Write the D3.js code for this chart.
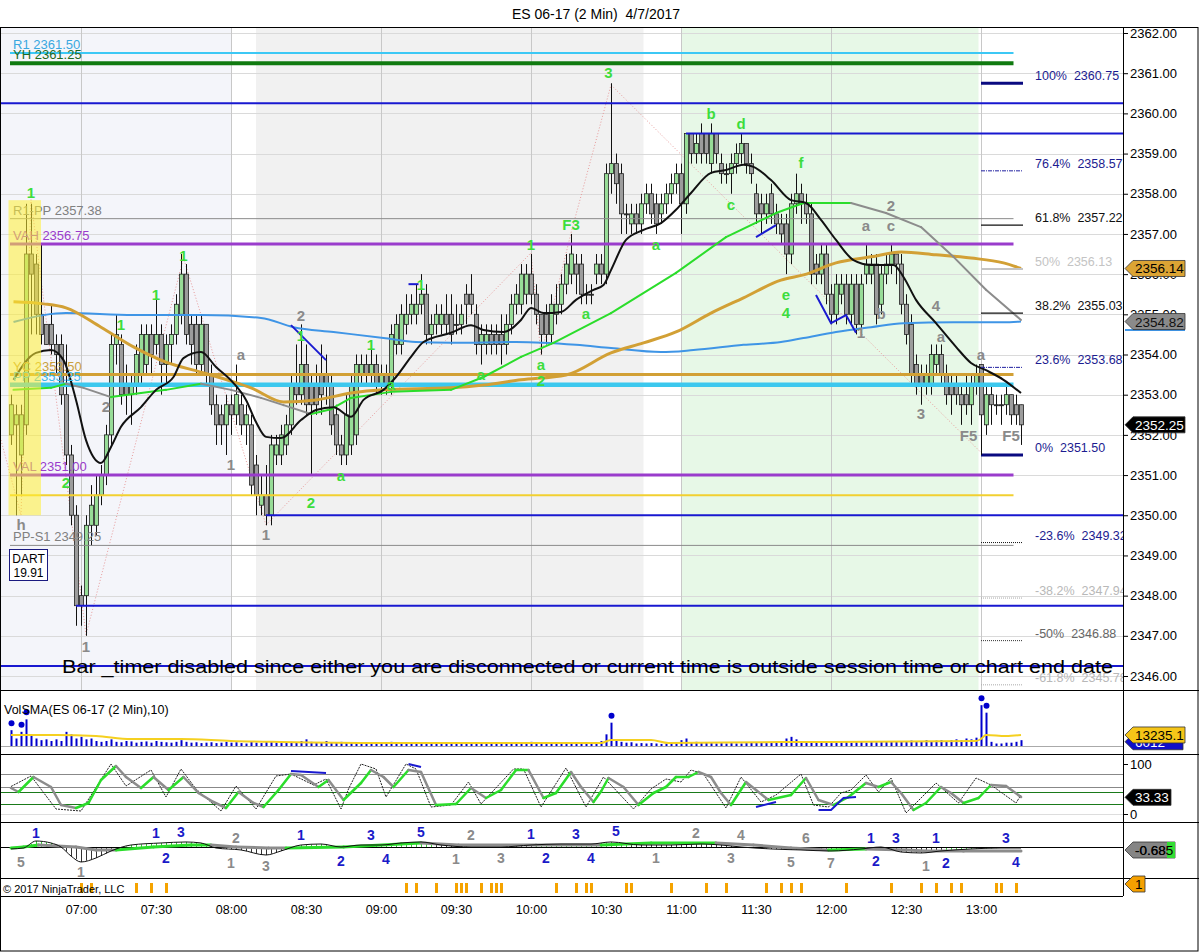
<!DOCTYPE html>
<html><head><meta charset="utf-8">
<script src="https://cdnjs.cloudflare.com/ajax/libs/d3/7.8.5/d3.min.js"></script>
<style>
body{margin:0;background:#fff}
svg{display:block;font-family:Arial,"Liberation Sans",sans-serif}
</style></head>
<body><svg id="c" width="1199" height="952"></svg>
<script>
// ---------------- DATA ----------------
const chartTitle = "ES 06-17 (2 Min)  4/7/2017";
const firstBar = "06:32", barMinutes = 2;
const barOpen = [2352,2352.25,2351.5,2352.25,2356.5,2356.25,2355,2354.75,2354.75,2354.25,2354.25,2353,2351.5,2350,
2348,2348,2349.75,2349.75,2350.5,2351,2352,2354.25,2354.25,2353.25,
2353,2353.25,2353.5,2353.75,2354.5,2354.25,2354.5,2353.75,2354.25,2354.5,
2355,2356,2354.75,2354.75,2353.75,2354.75,2353.5,2352.75,2352.5,2352.25,
2352.75,2352.5,2352.75,2352.25,2352.25,2351.25,2350.25,2350.5,2350,2351.5,
2351.5,2351.75,2352.25,2353.25,2353,2353.75,2353.25,2353.25,2353.5,2353.5,
2353.25,2352.5,2351.75,2351.5,2351.75,2352,2353.5,2353.75,2353.5,2353.75,
2353.25,2353.5,2353.25,2354.25,2354.25,2354.75,2355,2355,2355.25,2355.5,
2354.5,2354.75,2354.75,2355,2355,2354.75,2354.75,2355.5,2355.5,2355,
2354.25,2354.25,2354.5,2354.5,2354.5,2354.25,2354.75,2355.25,2355.25,2355.5,
2356,2355.5,2355,2355,2354.5,2355,2355.25,2355.75,2356,2356.25,
2356.25,2355.5,2355.5,2356,2356.25,2356,2358.5,2358.75,2358.5,2357.5,
2357.25,2357.5,2357.25,2357.75,2358,2357.75,2357.5,2357.75,2358,2358.25,
2358.5,2357.75,2359.5,2359,2359.5,2359.5,2358.75,2359.5,2358.75,2358.5,
2358.5,2358.75,2359,2359.25,2358.75,2358,2357.75,2357.5,2358,2357.5,
2357.25,2357.25,2356.5,2357.75,2358,2357.75,2357.5,2356.25,2356,2356.5,
2355.5,2355,2355.5,2355.75,2355,2355.75,2354.75,2356,2356,2356.25,
2355.25,2356,2356.25,2356.5,2356.25,2355.25,2354.75,2353.75,2353.5,2353.25,
2353.25,2353.75,2354,2353.5,2353.25,2353.25,2353,2353,2352.75,2353.25,
2353.75,2352.25,2353,2352.75,2352.75,2352.75,2353,2352.75,2352.75];
const barHigh = [2353,2352.75,2352.75,2357.75,2357.75,2356.5,2356.75,2354.75,2355.25,2354.5,2354.5,2354.25,2351.75,2350.25,
2348.25,2350,2350.75,2351,2351.25,2352.25,2354.5,2355,2354.5,2353.75,
2353.5,2354.25,2354.75,2354.75,2354.75,2355.5,2354.75,2354.5,2354.75,2355.5,
2356.5,2356.25,2355,2355,2355,2354.75,2353.75,2353,2352.75,2353,
2353,2353.75,2353,2352.75,2352.5,2351.5,2351,2351.25,2352,2352,
2352.25,2352.5,2353.5,2354.25,2354.75,2354.25,2353.5,2353.75,2354.25,2354,
2353.5,2352.75,2352,2353,2353.5,2354,2354,2354,2354.25,2354,
2353.75,2353.75,2354.75,2355,2355.25,2355.5,2355.5,2355.75,2356,2355.75,
2355,2355.25,2355.25,2355.5,2355.5,2355.25,2355.25,2355.75,2356,2355.25,
2354.75,2354.75,2354.75,2354.75,2355,2355,2355.5,2355.75,2356.25,2356.25,
2356.5,2355.75,2355,2355.25,2355.5,2355.75,2356,2356.5,2357,2356.5,
2356.5,2355.75,2355.75,2356.5,2356.5,2358.75,2360.75,2359,2358.75,2357.75,
2357.75,2357.75,2358,2358.25,2358.25,2358,2358,2358.25,2358.5,2358.75,
2358.75,2359.5,2359.5,2359.5,2359.75,2359.5,2359.75,2359.5,2359,2358.75,
2359,2359.25,2359.5,2359.25,2359,2358.25,2358,2358,2358.25,2357.75,
2357.5,2357.5,2358,2358.5,2358.25,2358,2357.75,2356.5,2356.75,2356.75,
2355.75,2356,2356,2356,2356,2356,2356,2356.75,2356.5,2356.5,
2356.25,2356.5,2356.75,2356.5,2356.5,2355.5,2355,2354,2353.75,2353.75,
2354.25,2354.25,2354.25,2353.75,2353.5,2353.5,2353.25,2353.5,2353.5,2353.75,
2353.75,2353.25,2353.25,2353,2353,2353.25,2353,2353,2352.75];
const barLow = [2351.75,2350,2350.5,2352,2354.5,2354.5,2354.25,2354.25,2354,2353.5,2352.75,2351.25,2349.75,2347.25,
2347.25,2347,2349.25,2349.5,2350.25,2350.75,2351.75,2353.75,2352.75,2352.5,
2352.25,2353,2353.25,2353.5,2353.5,2354,2353,2353.25,2353.75,2354.25,
2354.75,2354.25,2353.75,2353.5,2353.5,2353.25,2352.5,2351.75,2351.75,2351.5,
2352,2352.25,2352,2351.75,2350.5,2350,2350,2349.75,2349.75,2351.25,
2351.25,2351.5,2352,2352.75,2352.75,2352.5,2351,2352.5,2352.5,2352.75,
2352,2351.5,2351.25,2351.25,2351.5,2351.75,2353.25,2353.25,2353.25,2353,
2353,2353,2353,2354,2354,2354.5,2354.75,2354.75,2355,2354.25,
2354.25,2354.5,2354.5,2354.5,2354.25,2354.5,2354.5,2354.75,2355,2354,
2353.75,2354,2354,2354,2353.75,2354,2354.5,2355,2355,2355.25,
2355.25,2354.75,2354,2354.25,2354.25,2354.75,2355,2355.5,2355.75,2355.5,
2355.25,2355.25,2355.25,2355.75,2355.75,2355.75,2358,2357.75,2357,2357,
2357,2357,2357,2357.5,2357.25,2357,2357.25,2357.5,2357.75,2358,
2357,2357.5,2358.75,2358.75,2358.75,2358.75,2358.5,2358.75,2358.25,2358.25,
2358,2358.5,2358.75,2358.5,2358.25,2357.25,2357,2357.25,2357.25,2357,
2356.75,2356,2356.25,2357.5,2357.25,2357.25,2355.75,2355.75,2355.75,2355.25,
2354.75,2354.75,2355.25,2354.75,2354.75,2354.5,2354.5,2355.75,2355.75,2354.75,
2355,2355.75,2356,2355.75,2355,2354.25,2353.25,2353,2352.75,2353,
2353,2353.5,2353.25,2352.75,2352.5,2352.75,2352.25,2352.5,2352.25,2353,
2352.25,2352,2352.25,2352.5,2352.25,2352.5,2352.25,2352.25,2351.75];
const barClose = [2352.75,2352.5,2352.5,2356.5,2356,2355,2354.5,2354.25,2354.25,2354,2353,2351.5,2350,2347.75,
2347.75,2349.75,2350.25,2350.5,2351,2352,2354.25,2354.5,2353,2353,
2353.25,2354,2354.5,2354.5,2354,2354.5,2353.75,2354.25,2354.5,2355.25,
2356,2354.5,2354.25,2353.75,2354.75,2353.5,2352.75,2352.25,2352.25,2352.75,
2352.5,2353,2352.25,2352.5,2350.75,2350.5,2350.5,2350,2351.75,2351.75,
2352,2352.25,2353.25,2353,2353.75,2352.75,2352.75,2352.75,2353,2353.25,
2352.25,2351.75,2351.5,2352.5,2353.25,2353.75,2353.75,2353.5,2353.75,2353.25,
2353.5,2353.25,2354.5,2354.75,2355,2355,2355.25,2355.25,2355.5,2354.5,
2354.75,2355,2355,2354.75,2354.5,2354.75,2355,2355.25,2355.25,2354.25,
2354.5,2354.5,2354.25,2354.25,2354.25,2354.75,2355.25,2355.5,2356,2356,
2355.5,2355,2354.5,2354.5,2355.25,2355.25,2355.75,2356.25,2356.5,2356,
2355.5,2355.5,2355.5,2356.25,2356,2358.5,2358.75,2358.25,2357.5,2357.5,
2357.5,2357.25,2357.75,2358,2357.5,2357.25,2357.75,2358,2358.25,2358.5,
2357.75,2359.5,2359,2359.25,2359,2359,2359.5,2359,2358.5,2358.5,
2358.75,2359,2359.25,2358.75,2358.5,2357.5,2357.5,2357.75,2357.5,2357.25,
2357,2356.5,2357.75,2358,2357.75,2357.5,2356,2356,2356.5,2355.5,
2355,2355.75,2355.75,2355,2355.75,2354.75,2355.75,2356.25,2356.25,2355,
2356,2356.25,2356.5,2356.25,2355.25,2354.5,2353.5,2353.25,2353.25,2353.5,
2354,2354,2353.5,2353,2353,2353,2352.75,2352.75,2353.25,2353.5,
2352.5,2353,2352.75,2352.75,2352.75,2353,2352.5,2352.5,2352.25];
const barVolume = [19000,9000,17000,32000,13000,9000,7000,8000,6000,8000,6000,17000,14000,9000,
11000,8000,9000,6000,5000,6000,8000,5000,4500,6000,5500,4000,5000,5500,4000,
6000,5000,4500,4000,5000,7000,5000,4000,4500,3500,4000,4500,3500,4000,5000,
4000,4500,3500,3000,5000,4000,3500,5000,6000,4000,3500,4000,5000,4500,6000,
8000,5000,4500,4000,6000,4500,4000,5000,3500,4000,3500,3000,3500,4000,3000,
3500,3000,5000,4000,3500,3000,4000,3000,3500,4000,3000,3500,4500,3000,3500,
3000,3500,4000,3000,3500,3000,3000,4000,3000,3500,3000,4000,3500,3000,3500,
5000,4000,3500,3000,3500,3000,4000,3500,4000,3000,3500,3000,3500,4000,6000,
14000,28000,6000,5000,4000,4500,3000,3500,3000,3500,3000,2500,3000,3500,3000,
7000,9000,4000,5000,3500,4000,3500,3000,3500,3000,3500,3000,3000,3500,4000,
3500,4000,3500,4000,5000,4000,9000,11000,8000,4000,5000,4500,4000,5000,4000,
3500,4000,4500,5000,4000,4500,5000,4000,5500,4500,5000,6000,5000,5500,6000,
5000,6500,5500,6000,7000,6000,6500,7000,6000,7000,8000,7000,9000,8000,10000,
49000,40000,5000,3000,3000,4000,4000,5000,7000];
const volDotTimes = ["06:32","06:36","06:38","10:32","13:00","13:02"];
const volSmaT = ["06:32","06:50","07:06","07:20","07:40","08:00","08:20","09:00","10:00","10:28","10:32","10:48","10:55","11:40","12:00","12:58","13:00","13:02","13:10","13:16"];
const volSmaV = [13200,13200,12000,8400,8400,6000,4800,3600,3600,3600,7200,7200,3600,4800,4800,6000,8400,13200,12000,13235];

// key price levels
const levelName  = ["R1","YH","R1-PP","VAH","YC","PP","VAL","YL","PP-S1"];
const levelPrice = [2361.50,2361.25,2357.38,2356.75,2353.50,2353.25,2351.00,2350.50,2349.25];
const levelFrom = "06:32", levelTo = "13:13";
// swing lines (blue)
const swingPrice = [2360.25,2359.50,2350.00,2347.75,2346.25];
const swingFrom  = ["06:27","11:02","08:14","06:58","06:27"];
// fibonacci
const fibPct   = ["100%","76.4%","61.8%","50%","38.2%","23.6%","0%","-23.6%","-38.2%","-50%","-61.8%"];
const fibPrice = [2360.75,2358.57,2357.22,2356.13,2355.03,2353.68,2351.50,2349.32,2347.94,2346.88,2345.78];
const fibFrom = "13:00", fibTo = "13:16";

// moving averages
const maBlueT = ["06:33","06:45","06:54","07:21","07:48","08:12","08:25","08:41","09:01","09:14","09:28","09:54","10:18","10:32","10:52","11:05","11:25","11:40","11:49","12:02","12:16","12:29","12:49","13:09","13:16"];
const maBlueV = [2354.81,2354.98,2355.03,2354.98,2354.98,2354.91,2354.68,2354.56,2354.41,2354.31,2354.29,2354.31,2354.24,2354.16,2354.06,2354.11,2354.24,2354.31,2354.41,2354.56,2354.68,2354.78,2354.80,2354.80,2354.82];
const maGoldT = ["06:33","06:45","06:54","07:08","07:21","07:34","07:48","08:01","08:08","08:21","08:34","08:48","09:01","09:28","09:41","09:56","10:14","10:32","10:45","10:58","11:12","11:25","11:40","11:49","12:02","12:16","12:28","12:42","12:56","13:09","13:16"];
const maGoldV = [2355.31,2355.26,2355.16,2354.68,2354.19,2353.81,2353.56,2353.32,2353.17,2352.82,2352.87,2353.04,2353.12,2353.17,2353.24,2353.37,2353.49,2354.04,2354.29,2354.56,2355.03,2355.41,2355.85,2355.98,2356.28,2356.43,2356.55,2356.48,2356.40,2356.28,2356.14];
const maGreenT = ["06:33","06:48","06:54","07:01","07:12","07:24","07:34","07:48","08:00","08:12","08:21","08:32","08:40","08:48","09:04","09:28","09:41","09:56","10:09","10:32","10:58","11:18","11:38","11:49","12:08","12:22","12:36","12:49","13:02","13:16"];
const maGreenV = [2353.12,2353.17,2353.27,2353.17,2352.94,2353.04,2353.12,2353.27,2353.12,2352.92,2352.74,2352.52,2352.64,2352.92,2353.07,2353.12,2353.44,2353.94,2354.29,2355.03,2356.03,2356.92,2357.52,2357.77,2357.77,2357.52,2357.17,2356.43,2355.61,2354.86];
const maBlackT = ["06:33","06:42","06:48","06:53","06:58","07:02","07:08","07:12","07:16","07:24","07:30","07:37","07:41","07:48","07:54","08:01","08:06","08:10","08:14","08:20","08:28","08:34","08:41","08:48","08:53","09:01","09:06","09:12","09:17","09:28","09:36","09:41","09:49","09:56","10:00","10:05","10:12","10:18","10:25","10:29","10:32","10:38","10:45","10:52","10:58","11:04","11:12","11:18","11:25","11:29","11:36","11:44","11:50","11:56","12:02","12:09","12:16","12:25","12:29","12:34","12:42","12:50","12:56","13:02","13:09","13:16"];
const maBlackV = [2353.37,2354.04,2354.11,2353.86,2352.87,2351.87,2351.30,2351.70,2352.20,2352.69,2353.12,2353.44,2353.91,2354.06,2353.69,2353.29,2352.87,2352.32,2351.95,2351.92,2352.37,2352.62,2352.69,2352.45,2352.87,2353.12,2353.44,2353.94,2354.31,2354.54,2354.73,2354.61,2354.56,2354.86,2355.16,2355.03,2355.06,2355.36,2355.61,2355.73,2356.10,2356.85,2357.10,2357.27,2357.60,2358.02,2358.52,2358.59,2358.72,2358.67,2358.34,2357.84,2357.77,2357.35,2356.85,2356.35,2356.23,2356.23,2355.93,2355.36,2354.78,2354.19,2353.79,2353.61,2353.37,2353.04];

// swing zigzag (dotted)
const zigT = ["06:28","06:36","06:40","07:02","07:41","08:14","10:00","10:04","10:16","10:32","13:01"];
const zigP = [2351.87,2350.00,2357.85,2347.02,2356.40,2349.76,2356.53,2353.99,2357.02,2360.71,2351.50];

// wave labels
const greenLblText  = ["1","1","1","1","1","1","1","1","F3","3","2","2","a","a","a","a","2","a","a","b","d","c","f","e","4"];
const greenLblTime  = ["06:40","07:41","07:30","07:16","08:28","08:56","09:16","10:00","10:16","10:31","06:54","08:32","08:44","09:04","09:40","10:04","10:04","10:22","10:50","11:12","11:24","11:20","11:48","11:42","11:42"];
const greenLblPrice = [2358.02,2356.45,2355.48,2354.73,2354.46,2354.24,2355.73,2356.73,2357.22,2361.0,2350.80,2350.31,2350.98,2353.24,2353.49,2353.74,2353.34,2355.01,2356.73,2359.98,2359.74,2357.72,2358.77,2355.48,2355.03];
const greyLblText  = ["h","1","2","a","1","2","1","2","a","c","b","1","4","a","3","a","F5","F5"];
const greyLblTime  = ["06:36","07:02","07:10","08:04","08:00","08:28","08:14","12:24","12:14","12:24","12:20","12:12","12:42","12:44","12:36","13:00","12:55","13:12"];
const greyLblPrice = [2349.76,2346.72,2352.69,2353.99,2351.25,2354.96,2349.51,2357.70,2357.20,2357.20,2355.01,2354.54,2355.21,2354.44,2352.52,2353.99,2351.97,2351.97];
// blue divergence marks on price
const divT = [["08:24","08:38"],["09:11","09:15"],["11:30","11:38"],["11:54","12:00","12:06","12:10"]];
const divP = [[2354.73,2353.86],[2355.75,2355.75],[2356.92,2357.22],[2355.48,2354.78,2354.98,2354.54]];

// stochastics
const stochDT = ["06:32","06:35","06:41","06:48","06:52","06:58","07:03","07:08","07:14","07:18","07:24","07:29","07:35","07:41","07:47","07:53","07:58","08:03","08:09","08:13","08:19","08:24","08:28","08:35","08:39","08:45","08:52","08:56","09:01","09:05","09:11","09:16","09:22","09:30","09:36","09:42","09:48","09:54","09:59","10:05","10:10","10:16","10:20","10:25","10:28","10:31","10:37","10:43","10:49","10:54","10:58","11:03","11:07","11:12","11:16","11:20","11:26","11:30","11:35","11:44","11:50","11:55","12:01","12:07","12:14","12:19","12:24","12:28","12:33","12:38","12:44","12:48","12:53","12:59","13:04","13:10","13:16"];
const stochDV = [52,44,74,54,18,12,22,68,96,74,52,74,48,74,42,24,12,44,22,14,48,80,78,54,68,28,62,88,74,54,88,84,18,20,52,32,48,88,88,32,42,84,54,24,45,72,54,18,42,54,74,74,84,74,42,18,64,48,28,38,72,28,18,34,62,54,64,42,8,22,54,42,22,32,58,56,34];
const stochKT = ["06:32","06:40","06:50","07:00","07:12","07:18","07:28","07:34","07:40","07:46","07:56","08:02","08:10","08:18","08:24","08:33","08:38","08:44","08:47","08:52","08:58","09:02","09:10","09:14","09:20","09:28","09:35","09:40","09:53","09:57","10:04","10:14","10:22","10:29","10:41","10:48","10:54","11:00","11:04","11:09","11:18","11:24","11:32","11:38","11:48","11:53","11:59","12:04","12:08","12:14","12:19","12:24","12:30","12:42","12:51","12:58","13:04","13:14","13:16"];
const stochKV = [55,76,10,6,100,56,88,34,90,50,6,56,10,76,80,58,70,10,50,100,90,34,100,90,14,18,64,20,90,90,14,92,14,74,10,50,70,64,88,80,12,74,24,38,80,18,14,42,48,78,44,72,2,62,22,72,58,22,38];
const stochLevels = [80,54,44,20];
const stochDivT = [["08:24","08:38"],["09:11","09:16"],["11:30","11:38"],["11:55","12:00","12:05","12:10"]];
const stochDivV = [[86,82],[100,94],[14,24],[8,8,32,34]];

// MACD-type panel
const sigT = ["06:32","06:37","06:43","06:58","07:06","07:14","07:29","07:44","07:52","08:02","08:15","08:22","08:45","09:08","09:16","09:31","10:02","10:28","10:48","11:14","11:29","11:44","11:59","12:14","12:30","12:38","12:53","13:16"];
const sigV = [-0.23,0,0.45,0,-0.68,-0.68,0,0.45,0.45,0,-0.23,-0.23,0,0.68,0.91,0.45,0.45,0.45,0.91,0.91,0.45,-0.23,-0.68,-0.45,-0.68,-0.91,-0.91,-0.91];
const macdT = ["06:32","06:37","06:42","06:48","06:52","06:56","07:00","07:06","07:12","07:20","07:32","07:42","07:48","07:54","08:04","08:14","08:20","08:28","08:36","08:44","08:52","09:00","09:08","09:16","09:24","09:36","09:48","10:00","10:12","10:24","10:32","10:44","10:56","11:08","11:16","11:24","11:36","11:48","12:00","12:12","12:20","12:28","12:36","12:44","12:56","13:08","13:16"];
const macdV = [-0.45,-0.23,1.36,0.91,0,-2.05,-3.41,-2.5,-0.91,0.45,0.91,1.14,0.91,-0.23,-0.68,-1.82,-0.91,0.45,0.68,0,0.45,0.45,0.91,1.14,0.45,0,0,0.45,0.68,0.68,1.14,0.45,0.45,0.68,0.45,0,-0.45,-0.68,-0.91,-0.45,0,-1.14,-1.36,-0.91,-0.45,-0.23,-0.23];
const macdBlueText = ["1","1","3","2","1","2","3","4","5","1","2","3","4","5","1","3","2","1","2","3","4"];
const macdBlueTime = ["06:42","07:30","07:40","07:34","08:28","08:44","08:56","09:02","09:16","10:00","10:06","10:18","10:24","10:34","12:16","12:26","12:18","12:42","12:46","13:10","13:14"];
const macdBlueVal  = [3.18,3.18,3.41,-2.5,2.73,-3.18,2.73,-2.73,3.41,2.95,-2.5,2.95,-2.5,3.64,2.05,2.05,-3.18,2.05,-3.64,2.05,-3.41];
const macdGreyText = ["5","1","2","1","3","2","1","3","1","2","3","4","5","6","7","1"];
const macdGreyTime = ["06:36","07:00","08:02","08:00","08:14","09:36","09:30","09:48","10:50","11:06","11:20","11:24","11:44","11:50","12:00","12:38"];
const macdGreyVal  = [-3.41,-5.68,2.05,-3.64,-4.32,2.73,-2.73,-2.5,-2.5,3.18,-2.5,2.73,-3.41,2.05,-3.64,-4.32];

// signal ticks (bottom strip)
const tickTimes = ["07:00","07:04","07:22","07:28","07:34","09:10","09:14","09:22","09:30","09:32","09:34","09:40","09:44","09:46","09:48","10:10","10:18","10:22","10:24","10:38","10:40","10:56","11:10","11:18","11:34","11:40","11:44","11:48","12:06","12:24","12:36","12:42","12:48","12:52","13:06","13:08","13:14"];

const timeTicks = ["07:00","07:30","08:00","08:30","09:00","09:30","10:00","10:30","11:00","11:30","12:00","12:30","13:00"];
const priceTicks = [2346,2347,2348,2349,2350,2351,2352,2353,2354,2355,2356,2357,2358,2359,2360,2361,2362];

// ---------------- RENDER ----------------
const svg = d3.select("#c");
const T = s => { const [h,m] = s.split(":").map(Number); return new Date(1900,0,1,h,m); };
const R = 1123; // right edge of plot areas
const x = d3.scaleTime().domain([new Date(1900,0,1,6,27,36), new Date(1900,0,1,13,56,48)]).range([0,R]);
const yP = d3.scaleLinear().domain([2346,2362]).range([676,33]);
const yV = d3.scaleLinear().domain([0,66000]).range([746,691]);
const yS = d3.scaleLinear().domain([0,100]).range([814,764]);
const yM = d3.scaleLinear().domain([-7.05,5.68]).range([878,822]);
const FONT = 'Arial,"Liberation Sans",sans-serif';

const defs = svg.append("defs");
function clip(id,x0,y0,w,h){defs.append("clipPath").attr("id",id).append("rect").attr("x",x0).attr("y",y0).attr("width",w).attr("height",h);}
clip("cMain",0,27,R,663); clip("cVol",0,690,R,64); clip("cSto",0,754,R,68); clip("cMac",0,822,R,56); clip("cTick",0,878,R,18);

svg.append("rect").attr("width",1199).attr("height",952).attr("fill","#fff");

// title
svg.append("text").attr("x",596).attr("y",19).attr("text-anchor","middle").attr("font-size",14)
  .style("white-space","pre").text(chartTitle);

const main = svg.append("g").attr("clip-path","url(#cMain)");
// session shading
const shadeFrom = ["06:27","08:10","11:00"], shadeTo = ["08:00","10:45","12:59"];
const shadeColor = ["#f4f5fa","#f1f1f1","#e7f8e7"];
shadeFrom.forEach((s,i)=> main.append("rect").attr("x",x(T(s))).attr("width",x(T(shadeTo[i]))-x(T(s)))
  .attr("y",27).attr("height",663).attr("fill",shadeColor[i]));
// grid
main.selectAll(".hg").data(priceTicks).join("line").attr("x1",0).attr("x2",R)
  .attr("y1",d=>Math.round(yP(d))+0.5).attr("y2",d=>Math.round(yP(d))+0.5).attr("stroke","#dadada");
main.selectAll(".vg").data(timeTicks.filter((d,i)=>i%2===0)).join("line")
  .attr("x1",d=>x(T(d))+0.5).attr("x2",d=>x(T(d))+0.5).attr("y1",27).attr("y2",690).attr("stroke","#c8c8c8");

// zigzag dotted
main.append("path").datum(zigT.map((t,i)=>[T(t),zigP[i]]))
  .attr("d",d3.line().x(d=>x(d[0])).y(d=>yP(d[1]))).attr("fill","none")
  .attr("stroke","#e79a9a").attr("stroke-width",1).attr("stroke-dasharray","1,2");

// candles
const bars = barClose.map((c,i)=>({t:d3.timeMinute.offset(T(firstBar),i*barMinutes),o:barOpen[i],h:barHigh[i],l:barLow[i],c}));
const cg = main.append("g");
cg.selectAll("line").data(bars).join("line")
  .attr("x1",d=>Math.round(x(d.t))+0.5).attr("x2",d=>Math.round(x(d.t))+0.5)
  .attr("y1",d=>yP(d.h)).attr("y2",d=>yP(d.l)).attr("stroke","#111");
cg.selectAll("rect").data(bars).join("rect")
  .attr("x",d=>Math.round(x(d.t))-1.5).attr("width",4)
  .attr("y",d=>yP(Math.max(d.o,d.c))).attr("height",d=>Math.max(1,Math.abs(yP(d.o)-yP(d.c))))
  .attr("fill",d=>d.c>d.o?"#97dc97":(d.c<d.o?"#9c9c9c":"#444")).attr("stroke","#222").attr("stroke-width",0.8);

// key levels
const levelStyle = {"R1":["#3cc8f5",2],"YH":["#107a10",4],"R1-PP":["#8a8a8a",1],"VAH":["#9a3ccc",3],"YC":["#d2a035",3],
  "PP":["#3cc8ee",4.5],"VAL":["#9a3ccc",3],"YL":["#f2d030",2],"PP-S1":["#8a8a8a",1]};
const levelText = {"R1":"#3aa8e0","YH":"#1f6a1f","R1-PP":"#808080","VAH":"#9a3ccc","YC":"#c9a040","PP":"#3ab8ea","VAL":"#9a3ccc","PP-S1":"#808080"};
levelName.forEach((n,i)=>{
  const yy = yP(levelPrice[i]);
  main.append("line").attr("x1",x(T(levelFrom))-1).attr("x2",x(T(levelTo))).attr("y1",yy).attr("y2",yy)
    .attr("stroke",levelStyle[n][0]).attr("stroke-width",levelStyle[n][1]);
});
// swing lines
swingPrice.forEach((p,i)=> main.append("line").attr("x1",x(T(swingFrom[i]))).attr("x2",R)
  .attr("y1",yP(p)).attr("y2",yP(p)).attr("stroke","#1818d0").attr("stroke-width",2));

// moving averages
const lineGen = d3.line().x(d=>x(d[0])).y(d=>yP(d[1])).curve(d3.curveMonotoneX);
function ma(tArr,vArr,color,w){ main.append("path").datum(tArr.map((t,i)=>[T(t),vArr[i]])).attr("d",lineGen)
  .attr("fill","none").attr("stroke",color).attr("stroke-width",w); }
ma(maBlueT,maBlueV,"#3f95e6",2);
ma(maGoldT,maGoldV,"#d2a035",3);
// slope-coloured MA
function slopeLine(g,tArr,vArr,ys,w){
  let col="#22dd22";
  for(let i=1;i<tArr.length;i++){
    if(vArr[i]>vArr[i-1]) col="#2bdd2b"; else if(vArr[i]<vArr[i-1]) col="#8c8c8c";
    g.append("line").attr("x1",x(T(tArr[i-1]))).attr("x2",x(T(tArr[i]))).attr("y1",ys(vArr[i-1])).attr("y2",ys(vArr[i]))
      .attr("stroke",col).attr("stroke-width",w).attr("stroke-linecap","round");
  }
}
slopeLine(main,maGreenT,maGreenV,yP,2);
ma(maBlackT,maBlackV,"#111",2);

// fib
const fibStyle = [["#0a0a80",3,""],["#2020a0",1,"4,1,1,1"],["#111",1.3,""],["#c4c4c4",2,""],["#111",1.3,""],["#2020a0",1,"4,1,1,1"],
  ["#0a0a80",3,""],["#111",1,"1,1"],["#aaa",1,"1,1"],["#333",1,"1,1"],["#aaa",1,"1,1"]];
const fibTextCol = ["#1c1c90","#1c1c90","#111","#c4c4c4","#111","#1c1c90","#1c1c90","#1c1c90","#b8b8b8","#666","#b8b8b8"];
fibPrice.forEach((p,i)=>{
  main.append("line").attr("x1",x(T(fibFrom))).attr("x2",x(T(fibTo))+2).attr("y1",yP(p)).attr("y2",yP(p))
    .attr("stroke",fibStyle[i][0]).attr("stroke-width",fibStyle[i][1]).attr("stroke-dasharray",fibStyle[i][2]);
  main.append("text").attr("x",1035).attr("y",yP(p)-3).attr("font-size",12.5).attr("fill",fibTextCol[i])
    .text(fibPct[i]+"\u00a0\u00a0"+p.toFixed(2));
});
main.append("line").attr("x1",x(T(fibFrom))+0.5).attr("x2",x(T(fibFrom))+0.5).attr("y1",yP(2351.5)).attr("y2",yP(2352.4)).attr("stroke","#111");

// level labels
levelName.forEach((n,i)=>{ if(!levelText[n]) return;
  main.append("text").attr("x",13).attr("y",yP(levelPrice[i])-4).attr("font-size",13).attr("fill",levelText[n])
    .text(n+" "+levelPrice[i].toFixed(2)); });

// divergence marks
divT.forEach((ts,i)=> main.append("path").datum(ts.map((t,j)=>[T(t),divP[i][j]]))
  .attr("d",d3.line().x(d=>x(d[0])).y(d=>yP(d[1]))).attr("fill","none").attr("stroke","#1a1ad0").attr("stroke-width",2));

// wave labels
function labels(g,txt,tm,vals,ys,color,size,weight){
  txt.forEach((s,i)=> g.append("text").attr("x",x(T(tm[i]))).attr("y",ys(vals[i])).attr("dy","0.35em")
    .attr("text-anchor","middle").attr("font-size",size).attr("font-weight",weight).attr("fill",color).text(s));
}
labels(main,greenLblText,greenLblTime,greenLblPrice,yP,"#3ddd3d",15,"bold");
labels(main,greyLblText,greyLblTime,greyLblPrice,yP,"#8a8a8a",15,"bold");

// yellow highlight (semi-transparent overlay)
main.append("rect").attr("x",x(T("06:31"))).attr("width",x(T("06:44"))-x(T("06:31")))
  .attr("y",yP(2357.84)).attr("height",yP(2350.0)-yP(2357.84)).attr("fill","#ffee33").attr("opacity",0.55);

// bar timer message
main.append("text").attr("x",62).attr("y",673).attr("font-size",18.5).attr("textLength",1051)
  .attr("lengthAdjust","spacingAndGlyphs").attr("fill","#000")
  .text("Bar _timer disabled since either you are disconnected or current time is outside session time or chart end date");

// DART box
svg.append("rect").attr("x",9.5).attr("y",549.5).attr("width",38).attr("height",31).attr("fill","#fff").attr("stroke","#1a1a80");
svg.append("text").attr("x",28.5).attr("y",563).attr("text-anchor","middle").attr("font-size",12).text("DART");
svg.append("text").attr("x",28.5).attr("y",577).attr("text-anchor","middle").attr("font-size",12).text("19.91");

// ---------- volume panel ----------
const vg = svg.append("g").attr("clip-path","url(#cVol)");
vg.append("line").attr("x1",0).attr("x2",R).attr("y1",746.5).attr("y2",746.5).attr("stroke","#aaa");
vg.selectAll(".vb").data(bars).join("line")
  .attr("x1",d=>Math.round(x(d.t))+0.5).attr("x2",d=>Math.round(x(d.t))+0.5)
  .attr("y1",746).attr("y2",(d,i)=>yV(barVolume[i])).attr("stroke","#0000cc").attr("stroke-width",2);
vg.append("path").datum(volSmaT.map((t,i)=>[T(t),volSmaV[i]]))
  .attr("d",d3.line().x(d=>x(d[0])).y(d=>yV(d[1])).curve(d3.curveMonotoneX))
  .attr("fill","none").attr("stroke","#f5d020").attr("stroke-width",2);
volDotTimes.forEach(t=>{ const idx = bars.findIndex(b=>+b.t===+T(t));
  vg.append("circle").attr("cx",Math.round(x(T(t)))+0.5).attr("cy",yV(barVolume[idx])-7).attr("r",3).attr("fill","#0000cc"); });
svg.append("text").attr("x",4).attr("y",714).attr("font-size",12.5).text("VolSMA(ES 06-17 (2 Min),10)");

// ---------- stochastic panel ----------
const sg = svg.append("g").attr("clip-path","url(#cSto)");
const stoCol = ["#888","#888","#1a7a1a","#1a7a1a"];
stochLevels.forEach((v,i)=> sg.append("line").attr("x1",0).attr("x2",R).attr("y1",Math.round(yS(v))+0.5).attr("y2",Math.round(yS(v))+0.5).attr("stroke",stoCol[i]));
sg.append("line").attr("x1",0).attr("x2",R).attr("y1",yS(0)+0.5).attr("y2",yS(0)+0.5).attr("stroke","#ddd");
sg.append("path").datum(stochKT.map((t,i)=>[T(t),stochKV[i]]))
  .attr("d",d3.line().x(d=>x(d[0])).y(d=>yS(d[1]))).attr("fill","none").attr("stroke","#222").attr("stroke-width",1).attr("stroke-dasharray","2,1");
slopeLine(sg,stochDT,stochDV,yS,2.5);
stochDivT.forEach((ts,i)=> sg.append("path").datum(ts.map((t,j)=>[T(t),stochDivV[i][j]]))
  .attr("d",d3.line().x(d=>x(d[0])).y(d=>yS(d[1]))).attr("fill","none").attr("stroke","#1a1ad0").attr("stroke-width",2));

// ---------- MACD panel ----------
const mg = svg.append("g").attr("clip-path","url(#cMac)");
function interp(tArr,vArr,t){ const ts=tArr.map(s=>+T(s)); const tt=+t;
  if(tt<=ts[0]) return vArr[0]; for(let i=1;i<ts.length;i++){ if(tt<=ts[i]){ const f=(tt-ts[i-1])/(ts[i]-ts[i-1]); return vArr[i-1]+f*(vArr[i]-vArr[i-1]); } } return vArr[vArr.length-1]; }
bars.forEach(b=>{ const m = interp(macdT,macdV,b.t), s = interp(sigT,sigV,b.t);
  mg.append("line").attr("x1",Math.round(x(b.t))+0.5).attr("x2",Math.round(x(b.t))+0.5).attr("y1",yM(0)).attr("y2",yM(m))
    .attr("stroke",m>s?"#33cc33":"#333").attr("stroke-width",1); });
mg.append("line").attr("x1",0).attr("x2",R).attr("y1",Math.round(yM(0))+0.5).attr("y2",Math.round(yM(0))+0.5).attr("stroke","#000");
slopeLine(mg,sigT,sigV,yM,3);
mg.append("path").datum(macdT.map((t,i)=>[T(t),macdV[i]]))
  .attr("d",d3.line().x(d=>x(d[0])).y(d=>yM(d[1])).curve(d3.curveMonotoneX)).attr("fill","none").attr("stroke","#111").attr("stroke-width",1);
labels(mg,macdBlueText,macdBlueTime,macdBlueVal,yM,"#1a1ac8",14,"bold");
labels(mg,macdGreyText,macdGreyTime,macdGreyVal,yM,"#8a8a8a",14,"bold");

// ---------- tick strip ----------
const tg = svg.append("g").attr("clip-path","url(#cTick)");
tickTimes.forEach(t=> tg.append("rect").attr("x",Math.round(x(T(t)))-1).attr("width",3).attr("y",883).attr("height",10).attr("fill","#f5a300"));
svg.append("text").attr("x",3).attr("y",893).attr("font-size",11).text("\u00a9 2017 NinjaTrader, LLC");

// ---------- axes & frame ----------
const pa = svg.append("g").attr("transform",`translate(${R},0)`)
  .call(d3.axisRight(yP).tickValues(priceTicks).tickFormat(d3.format(".2f")).tickSize(5).tickPadding(2));
pa.select(".domain").remove();
pa.selectAll("text").attr("font-size",13).attr("font-family",FONT).attr("fill","#000");
pa.selectAll("line").attr("stroke","#000");
const sa = svg.append("g").attr("transform",`translate(${R},0)`)
  .call(d3.axisRight(yS).tickValues([0,100]).tickSize(5).tickPadding(2));
sa.select(".domain").remove();
sa.selectAll("text").attr("font-size",13).attr("font-family",FONT).attr("fill","#000");
const xa = svg.append("g").attr("transform","translate(0,896)")
  .call(d3.axisBottom(x).tickValues(timeTicks.map(T)).tickFormat(d3.timeFormat("%H:%M")).tickSize(0).tickPadding(9));
xa.select(".domain").remove();
xa.selectAll("text").attr("font-size",12.5).attr("font-family",FONT).attr("fill","#000");

const frame = svg.append("g").attr("stroke","#000").attr("fill","none");
[690,754,822,878].forEach(yy=> frame.append("line").attr("x1",0).attr("x2",1199).attr("y1",yy+0.5).attr("y2",yy+0.5));
frame.append("line").attr("x1",0).attr("x2",R).attr("y1",896.5).attr("y2",896.5);
frame.append("line").attr("x1",R+0.5).attr("x2",R+0.5).attr("y1",27).attr("y2",896);
frame.append("rect").attr("x",0.5).attr("y",27.5).attr("width",1197.5).attr("height",923.5);

// ---------- value tags ----------
function tag(yc,txt,fill,tcol,w){
  const x0=R+2, g=svg.append("g");
  g.append("path").attr("d",`M${x0},${yc} L${x0+8},${yc-8} L${x0+w},${yc-8} L${x0+w},${yc+8} L${x0+8},${yc+8} Z`)
    .attr("fill",fill).attr("stroke","#333").attr("stroke-width",0.8);
  g.append("text").attr("x",x0+10).attr("y",yc+5).attr("font-size",13.5).attr("fill",tcol).text(txt);
  return g;
}
tag(yP(2356.14),"2356.14","#dca434","#000",60);
svg.append("line").attr("x1",R+2).attr("x2",R+62).attr("y1",yP(2354.82)+8.5).attr("y2",yP(2354.82)+8.5).attr("stroke","#3f95e6").attr("stroke-width",2);
tag(yP(2354.82),"2354.82","#8a8a8a","#111",60);
tag(yP(2352.25),"2352.25","#000","#fff",60);
tag(yV(5100),"6012","#1010c8","#fff",58);
tag(yV(13235.1),"13235.1","#f5c518","#000",60);
tag(yS(33.33),"33.33","#000","#fff",46);
const mt = tag(yM(-0.685),"-0.685","#858585","#000",50);
svg.append("rect").attr("x",R+44).attr("y",yM(-0.685)-8).attr("width",8).attr("height",16).attr("fill","#33dd33");
svg.append("text").attr("x",R+12).attr("y",yM(-0.685)+5).attr("font-size",13.5).attr("fill","#000").text("-0.685");
tag(884,"1","#f5a000","#000",20);
</script></body></html>
